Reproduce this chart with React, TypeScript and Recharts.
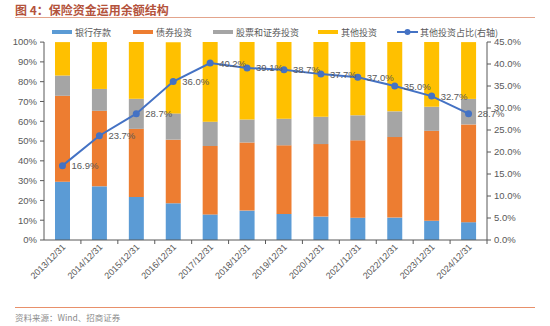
import { Bar, ComposedChart, LabelList, Line, XAxis, YAxis } from 'recharts'

const categories = [
  '2013/12/31', '2014/12/31', '2015/12/31', '2016/12/31', '2017/12/31', '2018/12/31',
  '2019/12/31', '2020/12/31', '2021/12/31', '2022/12/31', '2023/12/31', '2024/12/31',
]
// shares of total investment balance, %
const bankDeposits = [29.45, 27.12, 21.78, 18.55, 12.92, 14.85, 13.18, 11.84, 11.27, 11.32, 9.75, 9.0]
const bondInvest = [43.42, 38.15, 34.39, 32.15, 34.59, 34.43, 34.65, 36.61, 39.08, 40.7, 45.41, 49.4]
const stockFundInvest = [10.23, 11.06, 15.18, 13.28, 12.3, 11.61, 13.47, 13.85, 12.65, 12.98, 12.14, 12.9]
const otherInvest = [16.9, 23.7, 28.7, 36.0, 40.2, 39.1, 38.7, 37.7, 37.0, 35.0, 32.7, 28.7]
const otherShare = [16.9, 23.7, 28.7, 36.0, 40.2, 39.1, 38.7, 37.7, 37.0, 35.0, 32.7, 28.7]

const leftTicks = [0, 10, 20, 30, 40, 50, 60, 70, 80, 90, 100]
const rightTicks = [0, 5, 10, 15, 20, 25, 30, 35, 40, 45]

const BLUE = '#5b9bd5'
const ORANGE = '#ed7d31'
const GRAY = '#a5a5a5'
const YELLOW = '#ffc000'
const LINE_BLUE = '#4472c4'
const TEXT_GRAY = '#595959'
const AXIS_COLOR = '#595959'
const FONT = '"Liberation Sans", "Noto Sans CJK SC", sans-serif'
const CJK = '"Noto Sans CJK SC", sans-serif'

const data = categories.map((date, i) => ({
  date,
  bank: bankDeposits[i],
  bond: bondInvest[i],
  stock: stockFundInvest[i],
  other: otherInvest[i],
  share: otherShare[i],
}))

const PLOT_WIDTH = 443
const BAND = PLOT_WIDTH / categories.length

function DateTick(props: any) {
  const { x, y, payload } = props
  return (
    <g>
      <line x1={x + BAND / 2} y1={y} x2={x + BAND / 2} y2={y + 4} stroke={AXIS_COLOR} />
      <text
        x={x + 2}
        y={y + 6}
        transform={`rotate(-45 ${x + 2} ${y + 6})`}
        textAnchor="end"
        dominantBaseline="middle"
        fontSize={9}
        fill={TEXT_GRAY}
        fontFamily={FONT}
      >
        {payload.value}
      </text>
    </g>
  )
}

function ShareLabel(props: any) {
  const { x, y, value } = props
  return (
    <text x={x + 9} y={y + 1} dominantBaseline="middle" fontSize={9.5} fill={TEXT_GRAY} fontFamily={FONT}>
      {`${Number(value).toFixed(1)}%`}
    </text>
  )
}

const legendItems = [
  { name: '银行存款', color: BLUE, x: 52 },
  { name: '债券投资', color: ORANGE, x: 133 },
  { name: '股票和证券投资', color: GRAY, x: 213 },
  { name: '其他投资', color: YELLOW, x: 318 },
]

export default function App() {
  return (
    <div style={{ position: 'absolute', left: 0, top: 0, width: 550, height: 326, background: '#fff', fontFamily: FONT }}>
      <div style={{ position: 'absolute', left: 15, top: 2, fontSize: 12, fontWeight: 'bold', color: '#b4533c', fontFamily: CJK, lineHeight: '16px', whiteSpace: 'pre' }}>
        {'图 4：保险资金运用余额结构'}
      </div>
      <div style={{ position: 'absolute', left: 15, top: 17, width: 520, height: 1, background: '#e3a48c' }} />

      {legendItems.map((it) => (
        <div key={it.name} style={{ position: 'absolute', left: it.x, top: 25, height: 14, display: 'flex', alignItems: 'center' }}>
          <div style={{ width: 20, height: 4, background: it.color, marginRight: 3 }} />
          <span style={{ fontSize: 9, color: TEXT_GRAY, fontFamily: CJK }}>{it.name}</span>
        </div>
      ))}
      <div style={{ position: 'absolute', left: 397, top: 25, height: 14, display: 'flex', alignItems: 'center' }}>
        <svg width={21} height={8} style={{ marginRight: 2 }}>
          <line x1={0} y1={4} x2={21} y2={4} stroke={LINE_BLUE} strokeWidth={2} />
          <circle cx={10.5} cy={4} r={3} fill={LINE_BLUE} />
        </svg>
        <span style={{ fontSize: 9, color: TEXT_GRAY, fontFamily: CJK }}>其他投资占比(右轴)</span>
      </div>

      <div style={{ position: 'absolute', left: 0, top: 0 }}>
        <ComposedChart
          width={550}
          height={326}
          data={data}
          margin={{ top: 42, right: 23, bottom: 36, left: 4 }}
          barSize={15}
        >
          <XAxis
            dataKey="date"
            interval={0}
            tickSize={0}
            tickMargin={0}
            height={50}
            stroke={AXIS_COLOR}
            tick={<DateTick />}
          />
          <YAxis
            yAxisId="left"
            domain={[0, 100]}
            ticks={leftTicks}
            width={40}
            tickSize={4}
            tickMargin={3}
            stroke={AXIS_COLOR}
            tick={{ fontSize: 9.5, fill: TEXT_GRAY, fontFamily: FONT }}
            tickFormatter={(v) => `${v}%`}
          />
          <YAxis
            yAxisId="right"
            orientation="right"
            domain={[0, 45]}
            ticks={rightTicks}
            width={40}
            tickSize={4}
            tickMargin={3}
            stroke={AXIS_COLOR}
            tick={{ fontSize: 9.5, fill: TEXT_GRAY, fontFamily: FONT }}
            tickFormatter={(v) => `${Number(v).toFixed(1)}%`}
          />
          <Bar yAxisId="left" dataKey="bank" stackId="a" fill={BLUE} isAnimationActive={false} />
          <Bar yAxisId="left" dataKey="bond" stackId="a" fill={ORANGE} isAnimationActive={false} />
          <Bar yAxisId="left" dataKey="stock" stackId="a" fill={GRAY} isAnimationActive={false} />
          <Bar yAxisId="left" dataKey="other" stackId="a" fill={YELLOW} isAnimationActive={false} />
          <Line
            yAxisId="right"
            dataKey="share"
            stroke={LINE_BLUE}
            strokeWidth={2}
            dot={{ r: 3.5, fill: LINE_BLUE, stroke: LINE_BLUE, strokeWidth: 0 }}
            isAnimationActive={false}
          >
            <LabelList dataKey="share" content={<ShareLabel />} />
          </Line>
        </ComposedChart>
      </div>

      <div style={{ position: 'absolute', left: 15, top: 307, width: 520, height: 1, background: '#e8906a' }} />
      <div style={{ position: 'absolute', left: 15, top: 310, fontSize: 8.5, color: '#8c8c8c', fontFamily: CJK, lineHeight: '14px' }}>
        资料来源：Wind、招商证券
      </div>
    </div>
  )
}
